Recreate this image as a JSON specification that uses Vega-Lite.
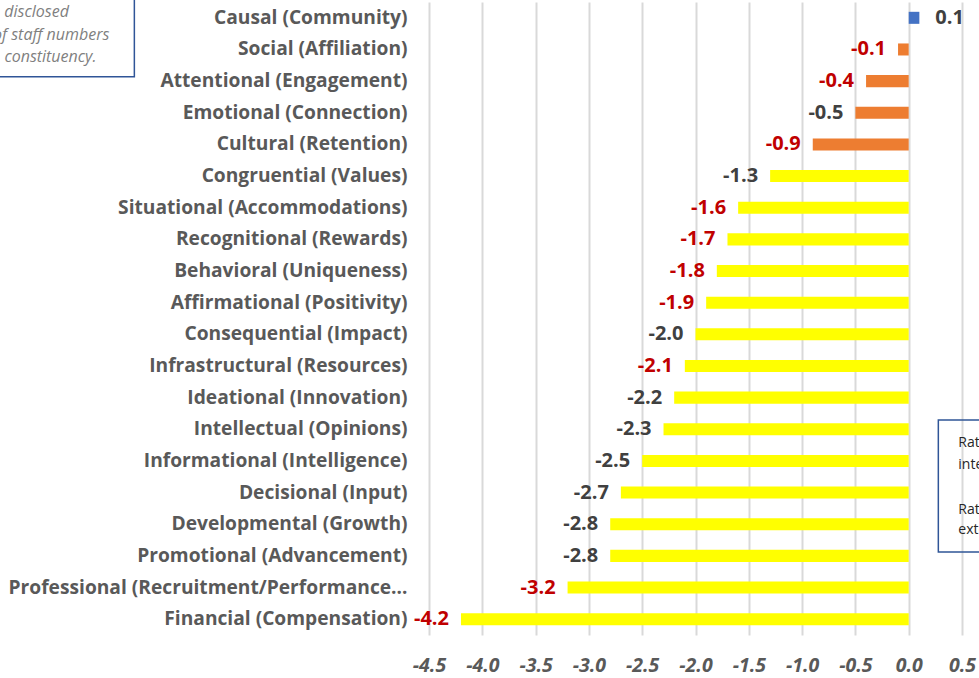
{
  "$schema": "https://vega.github.io/schema/vega-lite/v6.json",
  "autosize": {"type": "none"},
  "width": 533,
  "height": 633,
  "padding": {"left": 429, "top": 2, "right": 17, "bottom": 43},
  "background": "white",
  "config": {
    "view": {"stroke": null},
    "font": "Open Sans",
    "axis": {"title": null},
    "locale": {
      "number": {"decimal": ".", "thousands": ",", "grouping": [3], "currency": ["$", ""], "minus": "-"}
    }
  },
  "datasets": {
    "ratings": [
      {"driver": "Causal (Community)", "value": 0.1, "tier": "Positive", "highlight": false},
      {"driver": "Social (Affiliation)", "value": -0.1, "tier": "Mild", "highlight": true},
      {"driver": "Attentional (Engagement)", "value": -0.4, "tier": "Mild", "highlight": true},
      {"driver": "Emotional (Connection)", "value": -0.5, "tier": "Mild", "highlight": false},
      {"driver": "Cultural (Retention)", "value": -0.9, "tier": "Mild", "highlight": true},
      {"driver": "Congruential (Values)", "value": -1.3, "tier": "Severe", "highlight": false},
      {"driver": "Situational (Accommodations)", "value": -1.6, "tier": "Severe", "highlight": true},
      {"driver": "Recognitional (Rewards)", "value": -1.7, "tier": "Severe", "highlight": true},
      {"driver": "Behavioral (Uniqueness)", "value": -1.8, "tier": "Severe", "highlight": true},
      {"driver": "Affirmational (Positivity)", "value": -1.9, "tier": "Severe", "highlight": true},
      {"driver": "Consequential (Impact)", "value": -2.0, "tier": "Severe", "highlight": false},
      {"driver": "Infrastructural (Resources)", "value": -2.1, "tier": "Severe", "highlight": true},
      {"driver": "Ideational (Innovation)", "value": -2.2, "tier": "Severe", "highlight": false},
      {"driver": "Intellectual (Opinions)", "value": -2.3, "tier": "Severe", "highlight": false},
      {"driver": "Informational (Intelligence)", "value": -2.5, "tier": "Severe", "highlight": false},
      {"driver": "Decisional (Input)", "value": -2.7, "tier": "Severe", "highlight": false},
      {"driver": "Developmental (Growth)", "value": -2.8, "tier": "Severe", "highlight": false},
      {"driver": "Promotional (Advancement)", "value": -2.8, "tier": "Severe", "highlight": false},
      {"driver": "Professional (Recruitment/Performance…", "value": -3.2, "tier": "Severe", "highlight": true},
      {"driver": "Financial (Compensation)", "value": -4.2, "tier": "Severe", "highlight": true}
    ]
  },
  "layer": [
    {
      "data": {"name": "ratings"},
      "encoding": {
        "y": {
          "field": "driver",
          "type": "nominal",
          "sort": null,
          "scale": {"paddingInner": 0.62, "paddingOuter": 0.31},
          "axis": {
            "labelFont": "Open Sans",
            "labelFontWeight": "bold",
            "labelFontSize": 19.2,
            "labelColor": "#595959",
            "labelPadding": 22,
            "labelLimit": 600,
            "ticks": false,
            "domain": false,
            "grid": false
          }
        },
        "x": {
          "field": "value",
          "type": "quantitative",
          "scale": {"domain": [-4.5, 0.5], "nice": false, "zero": false},
          "axis": {
            "values": [-4.5, -4, -3.5, -3, -2.5, -2, -1.5, -1, -0.5, 0, 0.5],
            "format": ".1f",
            "grid": true,
            "gridColor": "#D9D9D9",
            "gridWidth": 2,
            "domain": false,
            "ticks": false,
            "labelFlush": false,
            "labelOverlap": false,
            "labelFont": "Open Sans",
            "labelFontWeight": "bold",
            "labelFontStyle": "italic",
            "labelFontSize": 19.5,
            "labelColor": "#595959",
            "labelBaseline": "middle",
            "labelPadding": 30
          }
        }
      },
      "layer": [
        {
          "mark": {"type": "bar"},
          "encoding": {
            "color": {
              "field": "tier",
              "type": "nominal",
              "scale": {"domain": ["Positive", "Mild", "Severe"], "range": ["#4472C4", "#ED7D31", "#FFFF00"]},
              "legend": null
            }
          }
        },
        {
          "transform": [{"filter": "datum.value < 0"}],
          "mark": {"type": "text", "align": "right", "baseline": "middle", "dx": -12, "font": "Open Sans", "fontWeight": "bold", "fontSize": 20},
          "encoding": {
            "text": {"field": "value", "type": "quantitative", "format": ".1f"},
            "color": {"condition": {"test": "datum.highlight", "value": "#C00000"}, "value": "#404040"}
          }
        },
        {
          "transform": [{"filter": "datum.value >= 0"}],
          "mark": {"type": "text", "align": "left", "baseline": "middle", "dx": 16, "font": "Open Sans", "fontWeight": "bold", "fontSize": 20},
          "encoding": {
            "text": {"field": "value", "type": "quantitative", "format": ".1f"},
            "color": {"condition": {"test": "datum.highlight", "value": "#C00000"}, "value": "#404040"}
          }
        }
      ]
    },
    {
      "data": {"values": [{}]},
      "encoding": {
        "y": {"type": "quantitative", "scale": {"domain": [0, 20], "reverse": true, "nice": false, "zero": false}, "axis": null}
      },
      "layer": [
        {
          "mark": {"type": "rect", "filled": false, "stroke": "#2F5597", "strokeWidth": 1.5, "clip": false},
          "encoding": {
            "x": {"datum": -10},
            "x2": {"datum": -7.264},
            "y": {"datum": -1},
            "y2": {"datum": 2.365}
          }
        },
        {
          "mark": {"type": "text", "align": "right", "baseline": "middle", "font": "Open Sans", "fontStyle": "italic", "fontSize": 16, "color": "#7F7F7F", "text": "disclosed"},
          "encoding": {"x": {"datum": -7.878}, "y": {"datum": 0.31}}
        },
        {
          "mark": {"type": "text", "align": "right", "baseline": "middle", "font": "Open Sans", "fontStyle": "italic", "fontSize": 16, "color": "#7F7F7F", "text": "of staff numbers"},
          "encoding": {"x": {"datum": -7.498}, "y": {"datum": 1.04}}
        },
        {
          "mark": {"type": "text", "align": "right", "baseline": "middle", "font": "Open Sans", "fontStyle": "italic", "fontSize": 16, "color": "#7F7F7F", "text": "constituency."},
          "encoding": {"x": {"datum": -7.62}, "y": {"datum": 1.73}}
        },
        {
          "mark": {"type": "rect", "filled": false, "stroke": "#2F5597", "strokeWidth": 1.5, "clip": false},
          "encoding": {
            "x": {"datum": 0.278},
            "x2": {"datum": 1.5},
            "y": {"datum": 13.21},
            "y2": {"datum": 17.38}
          }
        },
        {
          "mark": {"type": "text", "align": "left", "baseline": "middle", "font": "Open Sans", "fontSize": 14, "color": "#262626", "text": "Rating"},
          "encoding": {"x": {"datum": 0.465}, "y": {"datum": 13.94}}
        },
        {
          "mark": {"type": "text", "align": "left", "baseline": "middle", "font": "Open Sans", "fontSize": 14, "color": "#262626", "text": "internal"},
          "encoding": {"x": {"datum": 0.465}, "y": {"datum": 14.63}}
        },
        {
          "mark": {"type": "text", "align": "left", "baseline": "middle", "font": "Open Sans", "fontSize": 14, "color": "#262626", "text": "Rating"},
          "encoding": {"x": {"datum": 0.465}, "y": {"datum": 16.05}}
        },
        {
          "mark": {"type": "text", "align": "left", "baseline": "middle", "font": "Open Sans", "fontSize": 14, "color": "#262626", "text": "external"},
          "encoding": {"x": {"datum": 0.465}, "y": {"datum": 16.69}}
        }
      ]
    }
  ],
  "resolve": {"scale": {"y": "independent"}}
}
